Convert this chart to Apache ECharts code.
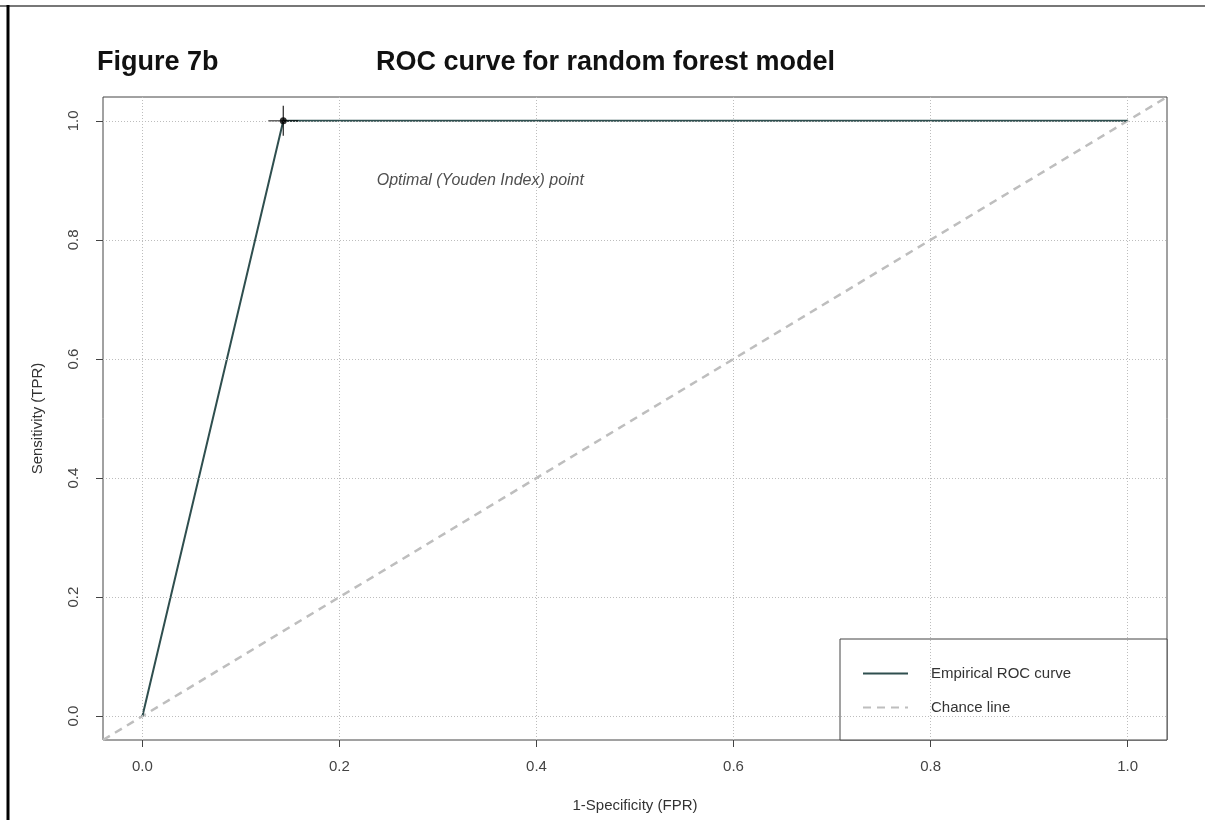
<!DOCTYPE html>
<html>
<head>
<meta charset="utf-8">
<style>
  html, body { margin: 0; padding: 0; background: #fff; }
  #chart { width: 1205px; height: 820px; }
</style>
<script src="https://cdn.jsdelivr.net/npm/echarts@6/dist/echarts.min.js"></script>
</head>
<body>
<div id="chart"></div>
<script>
// ROC curve (empirical)
var rocFpr = [0, 0.143, 1];
var rocTpr = [0, 1, 1];
// optimal (Youden index) point
var optPoint = [0.143, 1];
var optLabel = [0.343, 0.9];
// chance line spans the whole plot range
var chanceVals = [-0.04, 1.04];
// ticks / grid
var tickVals = [0, 0.2, 0.4, 0.6, 0.8, 1.0];
var axisRange = [-0.04, 1.04];

var font = '"Liberation Sans", Arial, sans-serif';
var chart = echarts.init(document.getElementById('chart'));

var rocData = rocFpr.map(function (x, i) { return [x, rocTpr[i]]; });
var chanceData = chanceVals.map(function (v) { return [v, v]; });

var gridLines = [];
tickVals.forEach(function (v) {
    gridLines.push({ xAxis: v });
    gridLines.push({ yAxis: v });
});

var option = {
    animation: false,
    backgroundColor: '#fff',
    title: [{
        text: 'Figure 7b',
        left: 97,
        top: 49,
        padding: 0,
        textStyle: { fontFamily: font, fontWeight: 'bold', fontSize: 27, color: '#111' }
    }, {
        text: 'ROC curve for random forest model',
        left: 376,
        top: 49,
        padding: 0,
        textStyle: { fontFamily: font, fontWeight: 'bold', fontSize: 27, color: '#111' }
    }],
    graphic: [{
        type: 'line',
        shape: { x1: 0, y1: 6, x2: 1205, y2: 6 },
        style: { stroke: '#777', lineWidth: 2 }
    }, {
        type: 'line',
        shape: { x1: 8, y1: 5, x2: 8, y2: 820 },
        style: { stroke: '#000', lineWidth: 3 }
    }],
    legend: {
        orient: 'vertical',
        left: 840,
        top: 639,
        data: ['Empirical ROC curve', 'Chance line'],
        itemWidth: 45,
        itemHeight: 14,
        itemGap: 19,
        padding: [27, 96, 25, 22],
        borderColor: '#444',
        borderWidth: 1,
        borderRadius: 0,
        backgroundColor: '#fff',
        selectedMode: false,
        itemStyle: { opacity: 0 },
        textStyle: { fontFamily: font, fontSize: 15, color: '#333', padding: [0, 0, 0, 18] }
    },
    grid: {
        left: 103,
        top: 97,
        right: 38,
        bottom: 80,
        show: true,
        borderColor: '#444',
        borderWidth: 1
    },
    xAxis: {
        type: 'value',
        min: axisRange[0],
        max: axisRange[1],
        name: '1-Specificity (FPR)',
        nameLocation: 'middle',
        nameGap: 58,
        nameTextStyle: { fontFamily: font, fontSize: 15, color: '#333' },
        axisLine: { show: false, onZero: false },
        axisTick: { show: true, length: 7, inside: false, customValues: tickVals, lineStyle: { color: '#444' } },
        axisLabel: {
            customValues: tickVals,
            margin: 19,
            fontFamily: font, fontSize: 15, color: '#444',
            formatter: function (v) { return v.toFixed(1); }
        },
        splitLine: { show: false }
    },
    yAxis: {
        type: 'value',
        min: axisRange[0],
        max: axisRange[1],
        name: 'Sensitivity (TPR)',
        nameLocation: 'middle',
        nameRotate: 90,
        nameGap: 58,
        nameTextStyle: { fontFamily: font, fontSize: 15, color: '#333' },
        axisLine: { show: false, onZero: false },
        axisTick: { show: true, length: 7, inside: false, customValues: tickVals, lineStyle: { color: '#444' } },
        axisLabel: {
            customValues: tickVals,
            rotate: 90,
            margin: 22,
            fontFamily: font, fontSize: 15, color: '#444',
            formatter: function (v) { return v.toFixed(1); }
        },
        splitLine: { show: false }
    },
    series: [{
        name: 'grid',
        type: 'line',
        data: [],
        z: 1,
        silent: true,
        markLine: {
            silent: true,
            symbol: ['none', 'none'],
            label: { show: false },
            lineStyle: { color: '#bdbdbd', type: [1, 2], width: 1 },
            data: gridLines
        }
    }, {
        name: 'Chance line',
        type: 'line',
        data: chanceData,
        showSymbol: false,
        symbol: 'none',
        z: 2,
        color: '#bebebe',
        lineStyle: { color: '#bebebe', width: 2.5, type: [8, 6] }
    }, {
        name: 'Empirical ROC curve',
        type: 'line',
        data: rocData,
        showSymbol: false,
        symbol: 'none',
        z: 3,
        color: '#2f4f4f',
        lineStyle: { color: '#2f4f4f', width: 2 }
    }, {
        name: 'optimal',
        type: 'scatter',
        data: [optPoint],
        z: 4,
        symbol: 'path://M0,15L30,15M15,0L15,30',
        symbolSize: 30,
        itemStyle: { color: 'transparent', borderColor: '#000', borderWidth: 1.3 }
    }, {
        name: 'optimalDot',
        type: 'scatter',
        data: [optPoint],
        z: 5,
        symbol: 'circle',
        symbolSize: 7,
        itemStyle: { color: '#000' }
    }, {
        name: 'optimalLabel',
        type: 'scatter',
        data: [optLabel],
        symbolSize: 0,
        z: 5,
        label: {
            show: true,
            position: 'inside',
            formatter: 'Optimal (Youden Index) point',
            fontFamily: font, fontSize: 16, fontStyle: 'italic', color: '#222'
        }
    }]
};
chart.setOption(option);
</script>
</body>
</html>
